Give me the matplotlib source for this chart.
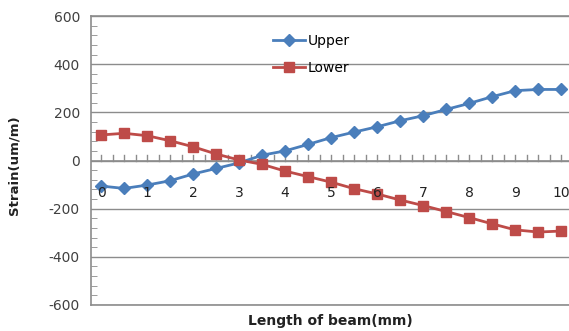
import matplotlib
matplotlib.use("Agg")
import matplotlib.pyplot as plt
from matplotlib.ticker import MultipleLocator

plt.rcParams["axes.unicode_minus"] = False

# beam positions (mm)
length = [0, 0.5, 1, 1.5, 2, 2.5, 3, 3.5, 4, 4.5, 5, 5.5, 6, 6.5, 7, 7.5, 8, 8.5, 9, 9.5, 10]
upper = [-106, -116, -102, -84, -56, -33, -10, 22, 40, 67, 95, 118, 140, 165, 186, 212, 237, 265, 290, 295, 295]
lower = [106, 113, 103, 82, 57, 27, 2, -16, -44, -67, -90, -117, -139, -164, -187, -212, -237, -263, -288, -297, -293]
x_labels = [str(i) for i in range(11)]

blue = "#4a7ebb"
red = "#be4b48"
grid_col = "#8c8c8c"

fig = plt.figure(figsize=(5.69, 3.31), dpi=100)
ax = fig.add_axes([91 / 569, 1 - 305 / 331, 1 - 91 / 569, 289 / 331])

ax.set_xlim(-0.22, 10.17)
ax.set_ylim(-600, 600)

ax.plot(length, upper, color=blue, lw=2, marker="D", ms=6.5, label="Upper", zorder=3)
ax.plot(length, lower, color=red, lw=2, marker="s", ms=7.5, label="Lower", zorder=3)

# horizontal gridlines
ax.yaxis.set_major_locator(MultipleLocator(200))
ax.yaxis.set_minor_locator(MultipleLocator(40))
ax.grid(axis="y", which="major", color=grid_col, lw=1)
ax.tick_params(axis="y", which="both", direction="in", length=4, color=grid_col,
               labelsize=10, labelcolor="#404040", pad=8)
ax.tick_params(axis="y", which="major", length=0)

ax.spines["right"].set_visible(False)
for s in ["left", "top", "bottom"]:
    ax.spines[s].set_color(grid_col)
    ax.spines[s].set_linewidth(1.2)

# x axis drawn on the zero line
ax.set_xticks([])
ax.axhline(0, color=grid_col, lw=1.2, zorder=1)
tick_pos = [i * 0.25 for i in range(0, 41)]
for t in tick_pos:
    ax.plot([t, t], [0, 22], color=grid_col, lw=1, zorder=1)
for i, lab in enumerate(x_labels):
    ax.text(i, -135, lab, ha="center", va="center", fontsize=10, color="#222222", zorder=4)

leg = ax.legend(loc="upper left", bbox_to_anchor=(0.355, 0.98), frameon=False,
                fontsize=10, handlelength=2.3, handletextpad=0.2, labelspacing=0.9)

fig.text(0.025, 0.5, "Strain(um/m)", rotation=90, ha="center", va="center",
         fontsize=9.5, fontweight="bold", color="#222222")
fig.text(0.58, 0.03, "Length of beam(mm)", ha="center", va="center",
         fontsize=10, fontweight="bold", color="#222222")

fig.savefig("out.png", dpi=100)
